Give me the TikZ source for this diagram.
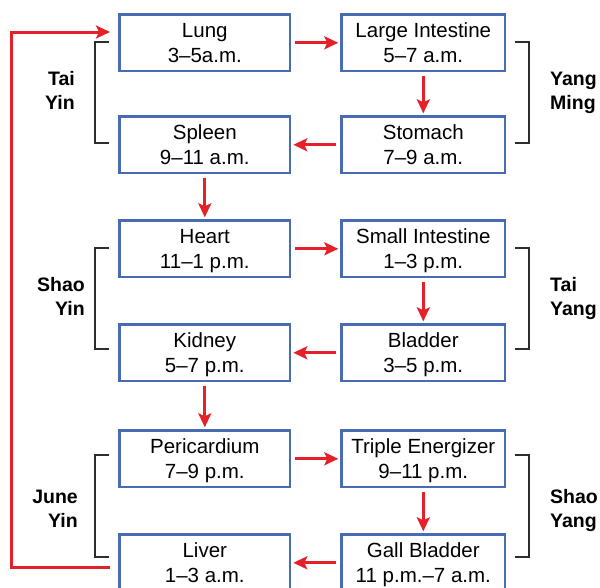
\documentclass[tikz,border=0pt]{standalone}
\usepackage{fontspec}
\setmainfont{Liberation Sans}
\usetikzlibrary{arrows.meta}
\definecolor{boxblue}{RGB}{72,108,178}
\definecolor{flowred}{RGB}{228,32,40}
\definecolor{brk}{RGB}{45,45,45}
\begin{document}
\begin{tikzpicture}[x=1pt,y=-1pt,
  organ/.style={draw=boxblue, line width=2.6pt, inner sep=0pt, anchor=north west,
    align=center, font=\fontsize{20.5}{25}\selectfont,
    text height=47.7pt, text depth=8.7pt},
  lorgan/.style={organ, minimum width=170.4pt},
  rorgan/.style={organ, minimum width=163.4pt},
  flow/.style={draw=flowred, line width=3pt,
    -{Stealth[length=14pt,width=13pt,inset=3pt]}, shorten <=4pt, shorten >=2pt},
  loopline/.style={draw=flowred, line width=3pt,
    -{Stealth[length=14pt,width=13pt,inset=3pt]}},
  bracket/.style={draw=brk, line width=1.4pt},
  meridian/.style={font=\bfseries\fontsize{19.5}{24.5}\selectfont, inner sep=0pt,
    text height=39.5pt, text depth=6pt},
  lmer/.style={meridian, align=right, anchor=north east},
  rmer/.style={meridian, align=left, anchor=north west}]
\useasboundingbox (0,0) rectangle (600,587);
\clip (0,0) rectangle (600,587);

% group 1
\node[lorgan] (lung) at (118.3,13.3) {Lung\\3–5a.m.};
\node[rorgan] (li) at (340.3,13.3) {Large Intestine\\5–7 a.m.};
\node[lorgan] (spleen) at (118.3,115.3) {Spleen\\9–11 a.m.};
\node[rorgan] (stomach) at (340.3,115.3) {Stomach\\7–9 a.m.};
% group 2
\node[lorgan] (heart) at (118.3,219.3) {Heart\\11–1 p.m.};
\node[rorgan] (si) at (340.3,219.3) {Small Intestine\\1–3 p.m.};
\node[lorgan] (kidney) at (118.3,323.3) {Kidney\\5–7 p.m.};
\node[rorgan] (bladder) at (340.3,323.3) {Bladder\\3–5 p.m.};
% group 3
\node[lorgan] (peri) at (118.3,429.3) {Pericardium\\7–9 p.m.};
\node[rorgan] (te) at (340.3,429.3) {Triple Energizer\\9–11 p.m.};
\node[lorgan] (liver) at (118.3,533.3) {Liver\\1–3 a.m.};
\node[rorgan] (gb) at (340.3,533.3) {Gall Bladder\\11 p.m.–7 a.m.};

% flow arrows
\draw[flow] (lung.east) -- (li.west);
\draw[flow] (li.south) -- (stomach.north);
\draw[flow] (stomach.west) -- (spleen.east);
\draw[flow] (spleen.south) -- (heart.north);
\draw[flow] (heart.east) -- (si.west);
\draw[flow] (si.south) -- (bladder.north);
\draw[flow] (bladder.west) -- (kidney.east);
\draw[flow] (kidney.south) -- (peri.north);
\draw[flow] (peri.east) -- (te.west);
\draw[flow] (te.south) -- (gb.north);
\draw[flow] (gb.west) -- (liver.east);

% return loop
\coordinate (loopstart) at (110,567);
\coordinate (loopbl) at (11,567);
\coordinate (looptl) at (11,32);
\coordinate (loopend) at (110,32);
\draw[loopline] (loopstart) -- (loopbl) -- (looptl) -- (loopend);

% brackets
\draw[bracket] (109,42) -- (95,42) -- (95,143) -- (109,143);
\draw[bracket] (515,42) -- (529,42) -- (529,143) -- (515,143);
\draw[bracket] (109,248) -- (95,248) -- (95,349) -- (109,349);
\draw[bracket] (515,248) -- (529,248) -- (529,349) -- (515,349);
\draw[bracket] (109,455) -- (95,455) -- (95,557) -- (109,557);
\draw[bracket] (515,455) -- (529,455) -- (529,557) -- (515,557);

% meridian labels
\node[lmer] (taiyin) at (75,70) {Tai\\Yin};
\node[rmer] (yangming) at (550,70) {Yang\\Ming};
\node[lmer] (shaoyin) at (85,276) {Shao\\Yin};
\node[rmer] (taiyang) at (550,276) {Tai\\Yang};
\node[lmer] (jueyin) at (78,488) {June\\Yin};
\node[rmer] (shaoyang) at (550,488) {Shao\\Yang};
\end{tikzpicture}
\end{document}
